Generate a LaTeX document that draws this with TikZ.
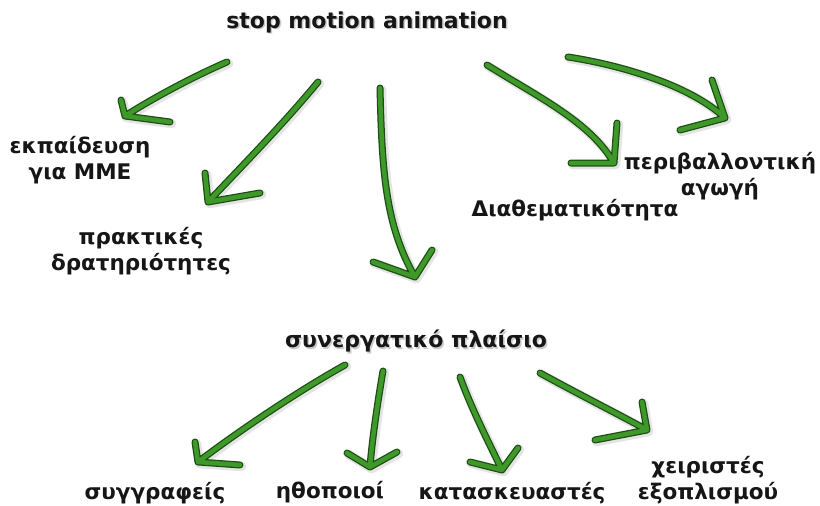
\documentclass[tikz,border=0pt]{standalone}
\usepackage{fontspec}
\setmainfont{DejaVu Sans}[BoldFont={DejaVu Sans Bold}]
\definecolor{argreen}{RGB}{62,152,42}
\definecolor{ardark}{RGB}{28,78,18}
\definecolor{txt}{RGB}{22,22,22}
\begin{document}
\begin{tikzpicture}[x=1pt,y=-1pt,
  lbl/.style={font=\fontsize{21.5}{26}\bfseries, text=txt, align=center, inner sep=0pt},
  ttl/.style={lbl, font=\fontsize{22}{26}\bfseries},
  shd/.style={text=black!45, opacity=0.45},
  garrow/.style={draw=argreen, line width=4.5pt, line cap=round, line join=round,
    preaction={draw=black!30, opacity=0.35, line width=9.5pt, line cap=round, line join=round, transform canvas={shift={(1.5pt,-1.5pt)}}},
    preaction={draw=ardark, line width=7pt, line cap=round, line join=round}}]
\path[use as bounding box, fill=white] (0,0) rectangle (820,506);

% shadows of titles
\node[ttl, shd] at (368.5,23.5) {stop motion animation};
\node[ttl, shd] at (417.5,342.5) {συνεργατικό πλαίσιο};

% nodes
\node[ttl] (top) at (367,22) {stop motion animation};
\node[lbl] (mme) at (80,160) {εκπαίδευση\\για ΜΜΕ};
\node[lbl] (prak) at (141,251) {πρακτικές\\δρατηριότητες};
\node[lbl] (diath) at (575,210) {Διαθεματικότητα};
\node[lbl] (perib) at (720,176) {περιβαλλοντική\\αγωγή};
\node[ttl] (syn) at (416,341) {συνεργατικό πλαίσιο};
\node[lbl] (syng) at (155,493) {συγγραφείς};
\node[lbl] (itho) at (330,492) {ηθοποιοί};
\node[lbl] (kat) at (512,493) {κατασκευαστές};
\node[lbl] (xeir) at (708,480) {χειριστές\\εξοπλισμού};

% connector end points
\coordinate (s1) at (227,62);  \coordinate (t1) at (125,116);
\coordinate (s2) at (318,82);  \coordinate (t2) at (208,202);
\coordinate (s3) at (380,88);  \coordinate (t3) at (415,277);
\coordinate (s4) at (487,65);  \coordinate (t4) at (614,163);
\coordinate (s5) at (568,57);  \coordinate (t5) at (725,118);
\coordinate (u1) at (345,365); \coordinate (v1) at (198,462);
\coordinate (u2) at (383,371); \coordinate (v2) at (370,467);
\coordinate (u3) at (460,377); \coordinate (v3) at (502,470);
\coordinate (u4) at (540,373); \coordinate (v4) at (647,430);

% arrows from top
\draw[garrow] (s1) .. controls (190,78) and (150,100) .. (t1) (121,100) -- (t1) -- (170,122);
\draw[garrow] (s2) .. controls (285,122) and (245,163) .. (t2) (205,173) -- (t2) -- (260,193);
\draw[garrow] (s3) .. controls (382,170) and (385,225) .. (t3) (373,262) -- (t3) -- (432,250);
\draw[garrow] (s4) .. controls (540,98) and (590,122) .. (t4) (617,123) -- (t4) -- (571,163);
\draw[garrow] (s5) .. controls (620,65) and (690,85) .. (t5) (712,80) -- (t5) -- (680,130);
% arrows from συνεργατικό πλαίσιο
\draw[garrow] (u1) .. controls (300,390) and (240,430) .. (v1) (195,442) -- (v1) -- (240,465);
\draw[garrow] (u2) .. controls (378,400) and (372,440) .. (v2) (347,453) -- (v2) -- (397,452);
\draw[garrow] (u3) .. controls (472,410) and (490,445) .. (v3) (470,462) -- (v3) -- (518,448);
\draw[garrow] (u4) .. controls (580,395) and (620,415) .. (v4) (642,402) -- (v4) -- (595,440);
\end{tikzpicture}
\end{document}
